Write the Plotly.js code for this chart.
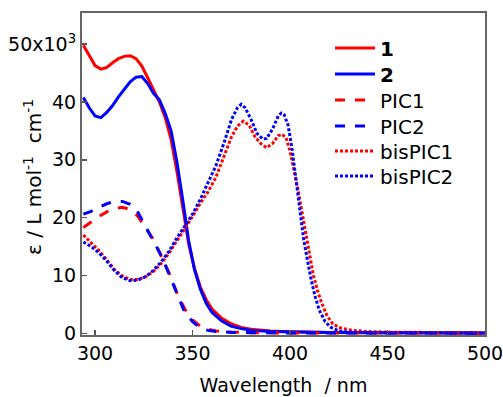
<!DOCTYPE html>
<html>
<head>
<meta charset="utf-8">
<script src="https://cdn.plot.ly/plotly-3.0.1.min.js"></script>
<style>html,body{margin:0;padding:0;background:#fff;}#chart{width:503px;height:397px;}</style>
</head>
<body>
<div id="chart"></div>
<script>
// ---- data (epsilon in 10^3 L mol^-1 cm^-1) ----
const wl1 = [294,297,300,303,306,309,312,315,318,321,324,327,330,333,336,339,342,345,348,351,354,357,360,365,370,375,380,390,400,420,450,500];
const eps1 = [49.8,48.0,46.3,45.7,46.0,46.8,47.5,47.9,48.0,47.5,46.2,44.2,42.0,40.0,37.3,33.5,28.0,21.5,15.5,11.2,8.0,5.8,4.2,2.6,1.6,1.0,0.7,0.4,0.25,0.15,0.1,0.05];

const wl2 = [294,297,300,303,306,309,312,315,318,321,324,327,330,333,336,339,342,345,348,351,354,357,360,365,370,375,380,390,400,420,450,500];
const eps2 = [40.8,39.0,37.6,37.3,38.2,39.4,40.9,42.3,43.5,44.3,44.4,43.2,41.5,40.4,38.0,35.0,29.6,23.0,16.0,11.0,7.6,5.2,3.6,2.1,1.2,0.8,0.5,0.3,0.2,0.12,0.08,0.05];

const wlPIC1 = [294,298,302,306,310,314,318,322,326,330,334,338,342,346,350,354,358,362,370,380,400,500];
const epsPIC1 = [18.3,19.3,20.2,21.0,21.6,21.8,21.4,20.2,18.2,16.2,13.3,10.4,7.0,4.2,2.3,1.2,0.7,0.4,0.2,0.1,0.05,0.02];

const wlPIC2 = [294,298,302,306,310,314,318,322,326,330,334,338,342,346,350,354,358,362,370,380,400,500];
const epsPIC2 = [20.6,21.1,21.8,22.4,22.8,22.8,22.3,20.9,18.4,15.8,13.4,10.2,7.0,3.6,2.0,0.9,0.5,0.3,0.15,0.1,0.05,0.02];

const wlBis1 = [294,298,302,306,310,314,318,322,326,330,334,338,342,346,350,354,358,362,366,370,373,376,379,382,385,388,391,394,396,398,400,402,404,406,408,410,412,414,416,419,422,426,432,440,450,470,500];
const epsBis1 = [17.0,15.6,14.3,12.7,11.0,9.9,9.3,9.3,9.8,10.7,12.1,13.9,16.0,17.9,20.2,22.5,24.5,27.0,30.5,34.0,35.8,36.7,36.0,34.0,32.8,32.1,32.8,34.2,34.4,33.8,31.5,28.5,25.0,21.2,17.5,13.5,10.0,7.5,5.4,3.0,1.6,0.9,0.5,0.3,0.2,0.15,0.1];

const wlBis2 = [294,298,302,306,310,314,318,322,326,330,334,338,342,346,350,354,358,362,366,370,373,375,377,380,383,386,388,391,394,395.5,397,399,401,403,405,407,409,411,413,415,418,421,425,430,440,450,500];
const epsBis2 = [15.8,15.0,13.9,12.5,10.8,9.6,9.1,9.2,9.8,10.9,12.4,14.2,16.5,18.5,20.6,23.2,26.2,29.0,32.8,37.0,39.0,39.6,39.0,37.0,34.6,33.6,33.7,35.3,37.6,38.1,37.8,36.0,32.0,26.5,21.0,16.2,12.5,9.0,6.2,4.0,2.0,1.0,0.4,0.2,0.1,0.08,0.05];

const seriesNames = ["<b>1</b>", "<b>2</b>", "PIC1", "PIC2", "bisPIC1", "bisPIC2"];
const yTickVals = [0,10,20,30,40,50];
const yTickText = ["0","10","20","30","40","50x10<sup>3</sup>"];
const xTickVals = [300,350,400,450,500];

const RED = "rgb(255,0,0)";
const BLUE = "rgb(0,0,255)";
const FONT = "DejaVu Sans, Arial, sans-serif";

const traces = [
  {x: wl1, y: eps1, name: seriesNames[0], legend: "legend", mode: "lines", line: {color: RED, width: 3}},
  {x: wl2, y: eps2, name: seriesNames[1], legend: "legend2", mode: "lines", line: {color: BLUE, width: 3}},
  {x: wlPIC1, y: epsPIC1, name: seriesNames[2], legend: "legend3", mode: "lines", line: {color: RED, width: 3, dash: "10px,10px"}},
  {x: wlPIC2, y: epsPIC2, name: seriesNames[3], legend: "legend4", mode: "lines", line: {color: BLUE, width: 3, dash: "10px,10px"}},
  {x: wlBis1, y: epsBis1, name: seriesNames[4], legend: "legend5", mode: "lines", line: {color: RED, width: 3, dash: "3px,2px"}},
  {x: wlBis2, y: epsBis2, name: seriesNames[5], legend: "legend6", mode: "lines", line: {color: BLUE, width: 3, dash: "3px,2px"}}
];

// one legend per entry so the row spacing can follow the reference
const rowCenters = [48, 74, 100, 126, 151, 176];
function legendAt(yc) {
  return {x: (330 - 82) / 403, xanchor: "left", y: (335 - yc) / 322, yanchor: "middle",
          bgcolor: "rgba(0,0,0,0)", borderwidth: 0, itemwidth: 40,
          font: {size: 20, family: FONT, color: "#000"}};
}

const layout = {
  width: 503, height: 397,
  margin: {l: 82, r: 18, t: 13, b: 62, pad: 0},
  paper_bgcolor: "#fff", plot_bgcolor: "#fff",
  font: {family: FONT, size: 19, color: "#000"},
  showlegend: true,
  legend: legendAt(rowCenters[0]),
  legend2: legendAt(rowCenters[1]),
  legend3: legendAt(rowCenters[2]),
  legend4: legendAt(rowCenters[3]),
  legend5: legendAt(rowCenters[4]),
  legend6: legendAt(rowCenters[5]),
  xaxis: {
    range: [293.3, 500], tickvals: xTickVals, ticks: "inside", ticklen: 5, tickwidth: 1.5, tickcolor: "#555",
    showline: true, linecolor: "#666", linewidth: 2, mirror: true, showgrid: false, zeroline: false,
    tickfont: {size: 19}, ticklabeloverflow: "allow",
    title: {text: "Wavelength\u00A0\u00A0/ nm", font: {size: 19}, standoff: 16}
  },
  yaxis: {
    range: [-0.3, 55.4], tickvals: yTickVals, ticktext: yTickText, ticks: "inside", ticklen: 5, tickwidth: 1.5, tickcolor: "#555",
    showline: true, linecolor: "#666", linewidth: 2, mirror: true, showgrid: false, zeroline: false,
    tickfont: {size: 19}, ticklabeloverflow: "allow"
  },
  annotations: [{
    text: "ε / L mol<sup>-1</sup>\u00A0 cm<sup>-1</sup>", textangle: -90,
    xref: "paper", yref: "paper", x: (33 - 82) / 403, y: (335 - 177) / 322,
    xanchor: "center", yanchor: "middle", showarrow: false,
    font: {size: 20, family: FONT, color: "#000"}
  }]
};

Plotly.newPlot("chart", traces, layout, {displayModeBar: false, staticPlot: true});
</script>
</body>
</html>
